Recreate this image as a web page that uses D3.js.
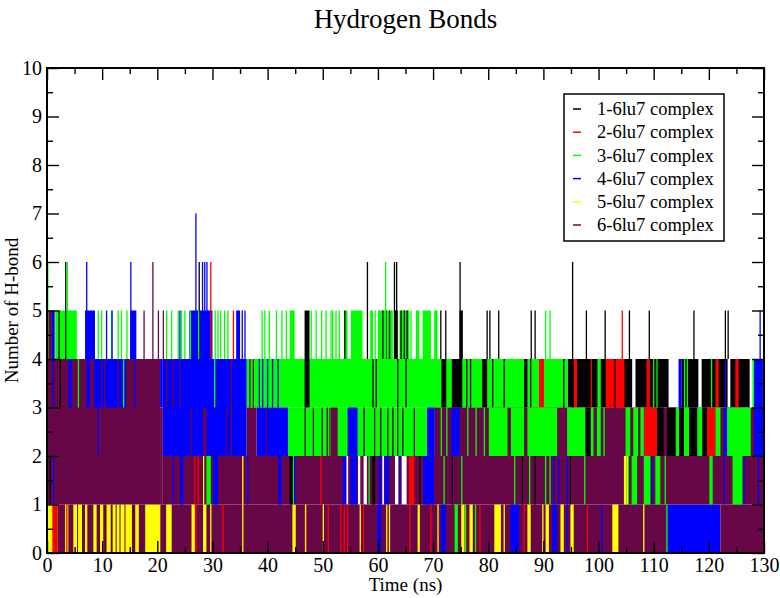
<!DOCTYPE html>
<html>
<head>
<meta charset="utf-8">
<title>Hydrogen Bonds</title>
<script src="https://cdn.jsdelivr.net/npm/d3@7"></script>
<style>
  body { margin: 0; background: #fff; }
  text { font-family: "Liberation Serif", "DejaVu Serif", serif; fill: #000; }
</style>
</head>
<body>
<svg id="chart" width="780" height="598"></svg>
<script>

// series names and colours (legend order = draw order)
var seriesNames = ["1-6lu7 complex", "2-6lu7 complex", "3-6lu7 complex", "4-6lu7 complex", "5-6lu7 complex", "6-6lu7 complex"];
var seriesColors = ["#000000", "#ff0000", "#00ff00", "#0000ff", "#ffff00", "#670748"];

var xTicks = [0, 10, 20, 30, 40, 50, 60, 70, 80, 90, 100, 110, 120, 130];
var xMinorTicks = [5, 15, 25, 35, 45, 55, 65, 75, 85, 95, 105, 115, 125];
var yTicks = [0, 1, 2, 3, 4, 5, 6, 7, 8, 9, 10];
var yMinorTicks = [0.5, 1.5, 2.5, 3.5, 4.5, 5.5, 6.5, 7.5, 8.5, 9.5];

// each series: bands = long stretches where the count flips between lo and hi  [t0, t1, lo, hi]
// bursts = short stretches of the same kind, spikes = single frames [t, lo, hi]
var s1Bands = [[94.4,106.1,3,4],[106.7,112.7,3,4],[115.1,118.1,3,4],[118.7,123.4,3,4],[123.9,127.4,3,4]];
var s1Bursts = [[46.7,47.6,3,5],[62.9,63.6,4,5],[74.8,75.4,4,5],[71.5,72.4,3,4],[73.4,75.3,3,4],[78.9,79.8,3,4],[86.5,87.1,3,4],
  [97.6,98.6,2,3],[110.6,111.8,2,3],[112.4,114.0,2,3],[114.6,115.5,2,3],[116.4,117.9,2,3],[118.8,119.7,2,3],[44.0,44.6,1,2],[59.0,59.5,1,2]];
var s1Spikes = [[3.4,4,6],[27.6,4,6],[58.1,4,6],[63.0,4,6],[63.4,4,6],[74.9,3,6],[95.3,3,6],[2.2,4,5],[54.0,4,5],[60.9,4,5],[61.5,4,5],
  [62.1,4,5],[64.2,4,5],[64.8,4,5],[65.3,4,5],[71.4,4,5],[72.3,4,5],[79.8,4,5],[80.3,4,5],[81.9,4,5],[87.8,4,5],[88.5,4,5],[97.8,4,5],
  [101.2,4,5],[105.6,4,5],[109.2,4,5],[117.3,4,5],[123.0,4,5],[123.5,4,5],[2.4,3,4],[59.1,3,4],[59.7,3,4],[63.6,3,4],[65.1,3,4],
  [76.1,3,4],[76.8,3,4],[80.8,3,4],[82.9,3,4],[87.7,3,4],[93.7,3,4],[103.0,3,4],[57.5,2,3],[60.5,2,3],[62.7,2,3],[64.5,2,3],
  [0.6,1,2],[67.6,1,2],[73.5,1,2],[86.2,1,2],[88.5,1,2],[94.9,1,2]];

var s2Bands = [];
var s2Bursts = [[89.2,90.1,3,4],[95.5,96.1,3,4],[101.3,104.7,3,4],[108.7,109.3,3,4],[121.2,121.8,3,4],[124.8,125.4,3,4],
  [108.2,110.6,2,3],[119.7,121.2,2,3],[65.6,66.6,1,2],[0.97,1.93,0,1]];
var s2Spikes = [[29.7,4,6],[33.8,4,5],[104.3,4,5],[98.7,3,4],[26.8,1,2],[27.4,1,2],[49.7,1,2],[3.6,0,1],[27.0,0,1],[31.9,0,1],
  [46.8,0,1],[51.0,0,1],[53.3,0,1],[53.9,0,1],[54.5,0,1],[57.4,0,1],[65.8,0,1],[69.6,0,1],[78.5,0,1],[86.5,0,1],[98.0,0,1]];

var s3Bands = [[36.2,94.4,3,4],[43.7,70.3,2,3]];
var s3Bursts = [[1.5,5.4,4,5],[44.0,44.9,4,5],[53.9,54.5,4,5],[55.1,57.2,4,5],[58.6,59.1,4,5],[60.0,62.7,4,5],[63.9,65.7,4,5],
  [66.9,67.5,4,5],[68.1,69.6,4,5],[70.2,70.8,4,5],[99.8,100.4,3,4],[127.9,128.3,3,4],[80.1,83.5,2,3],[84.1,86.5,2,3],
  [87.1,92.5,2,3],[94.3,97.6,2,3],[98.6,99.2,2,3],[99.7,100.4,2,3],[104.9,105.8,2,3],[106.3,107.2,2,3],[107.6,108.2,2,3],
  [114.0,114.6,2,3],[115.5,116.4,2,3],[117.9,118.8,2,3],[121.2,122.1,2,3],[123.3,127.6,2,3],[28.9,29.7,1,2],[105.0,105.5,1,2],
  [106.0,107.0,1,2],[108.2,109.4,1,2],[110.3,111.2,1,2],[120.1,120.7,1,2],[124.3,126.1,1,2],[73.9,74.5,0,1]];
var s3Spikes = [[0.15,4,6],[3.7,4,6],[61.4,4,6],[9.3,4,5],[9.9,4,5],[11.7,4,5],[12.9,4,5],[13.5,4,5],[14.5,4,5],[21.7,4,5],
  [22.6,4,5],[23.8,4,5],[24.4,4,5],[25.0,4,5],[26.0,4,5],[27.5,4,5],[30.5,4,5],[31.0,4,5],[31.5,4,5],[32.2,4,5],[32.8,4,5],
  [39.0,4,5],[39.5,4,5],[40.3,4,5],[41.6,4,5],[42.6,4,5],[43.4,4,5],[47.9,4,5],[48.8,4,5],[49.8,4,5],[50.6,4,5],[51.5,4,5],
  [51.8,4,5],[52.4,4,5],[53.0,4,5],[59.5,4,5],[66.0,4,5],[90.4,4,5],[91.2,4,5],[5.7,3,4],[13.9,3,4],[30.4,3,4],[110.0,3,4],
  [110.6,3,4],[115.6,3,4],[116.1,3,4],[120.5,3,4],[71.5,2,3],[72.5,2,3],[76.3,2,3],[77.8,2,3],[79.3,2,3],[101.0,2,3],
  [44.7,1,2],[58.4,1,2],[72.0,1,2],[75.2,1,2],[84.8,1,2],[87.5,1,2],[90.4,1,2],[91.2,1,2],[97.5,1,2],[112.1,1,2],
  [75.9,0,1],[77.7,0,1],[112.4,0,1]];

var s4Bands = [[20.5,21.0,3,4],[21.0,36.2,2,4],[38.0,43.7,2,3],[112.4,122.1,0,1]];
var s4Bursts = [[0.9,1.4,4,5],[6.9,8.7,4,5],[15.1,16.2,4,5],[25.8,30.0,4,5],[34.3,35.0,4,5],[3.9,4.5,3,4],[7.2,7.8,3,4],
  [8.5,14.3,3,4],[114.5,115.1,3,4],[128.2,129.8,2,4],[54.5,56.3,2,3],[68.9,70.3,2,3],[73.3,74.8,2,3],[122.7,123.3,2,3],
  [24.1,24.7,1,2],[30.1,31.0,1,2],[41.9,42.5,1,2],[53.6,54.2,1,2],[55.0,56.2,1,2],[60.1,60.6,1,2],[61.2,62.0,1,2],
  [68.2,70.2,1,2],[59.9,60.6,0,1],[71.4,72.3,0,1],[84.0,85.6,0,1],[91.6,92.5,0,1]];
var s4Spikes = [[7.2,4,6],[15.2,4,6],[27.0,4,7],[28.2,4,6],[28.6,4,6],[29.0,4,6],[129.3,4,5],[10.8,4,5],[11.8,4,5],[24.1,4,5],
  [35.4,4,5],[35.9,4,5],[1.15,3,4],[15.9,3,4],[38.5,3,4],[39.1,3,4],[40.0,3,4],[40.9,3,4],[41.9,3,4],[123.0,3,4],[9.3,2,3],
  [1.2,1,2],[22.9,1,2],[36.4,1,2],[44.9,1,2],[64.0,1,2],[91.9,1,2],[92.8,1,2],[94.3,1,2],[109.7,1,2],[122.8,1,2],[126.4,1,2],
  [129.0,1,2],[94.3,0,1],[100.6,0,1]];

var s5Bands = [[0,22.6,0,1]];
var s5Bursts = [[26.2,26.8,0,1],[28.3,28.9,0,1],[44.5,45.1,0,1],[67.2,67.6,0,1],[75.1,75.7,0,1],[76.6,77.2,0,1],[81.1,82.3,0,1],
  [87.1,87.7,0,1],[90.4,91.0,0,1],[93.1,93.7,0,1],[94.9,95.5,0,1],[102.5,103.6,0,1],[104.6,105.0,1,2]];
var s5Spikes = [[29.7,0,1],[35.5,0,1],[46.9,0,1],[50.1,0,1],[56.8,0,1],[61.6,0,1],[62.1,0,1],[70.9,0,1],[82.9,0,1],[89.9,0,1],
  [108.2,0,1],[28.4,1,2],[35.5,1,2],[105.2,1,2]];

var s6Bands = [[0,0.9,3,5],[0,20.5,1,4],[20.5,21.0,1,3],[21.0,54.3,1,2],[54.6,56.4,1,2],[56.8,57.4,1,2],[58.0,60.8,1,2],
  [61.1,63.1,1,2],[63.7,64.3,1,2],[65.2,130,1,2],[36.2,38.0,2,3],[70.3,130,2,3],[22.6,112.4,0,1],[122.1,130,0,1]];
var s6Bursts = [[1.93,3.26,0,1],[3.87,4.77,0,1],[5.45,5.6,0,1],[6.35,6.89,0,1],[7.31,8.4,0,1],[9.0,9.61,0,1],[10.2,10.8,0,1],
  [11.55,11.9,0,1],[12.45,12.55,0,1],[13.15,13.25,0,1],[14.05,14.15,0,1],[15.4,16.0,0,1],[16.65,17.8,0,1],[20.55,21.6,0,1],
  [28.3,28.9,2,3],[51.5,52.7,2,3]];
var s6Spikes = [[19.2,4,6],[17.6,4,5],[20.2,4,5],[21.1,4,5],[21.7,3,4],[22.9,3,4],[24.1,3,4],[33.4,3,4],[9.9,3,4],[10.5,3,4],
  [12.9,3,4],[36.8,3,4],[37.4,3,4],[26.2,2,3],[32.5,2,3],[33.4,2,3],[39.8,2,3],[46.8,2,3],[48.3,2,3],[49.9,2,3],[50.8,2,3],
  [51.3,2,3],[59.4,2,3],[61.8,2,3],[63.6,2,3],[66.6,2,3],[99.2,2,3],[105.9,2,3],[107.4,2,3]];

var series = [
  {name: seriesNames[0], color: seriesColors[0], bands: s1Bands, bursts: s1Bursts, spikes: s1Spikes},
  {name: seriesNames[1], color: seriesColors[1], bands: s2Bands, bursts: s2Bursts, spikes: s2Spikes},
  {name: seriesNames[2], color: seriesColors[2], bands: s3Bands, bursts: s3Bursts, spikes: s3Spikes},
  {name: seriesNames[3], color: seriesColors[3], bands: s4Bands, bursts: s4Bursts, spikes: s4Spikes},
  {name: seriesNames[4], color: seriesColors[4], bands: s5Bands, bursts: s5Bursts, spikes: s5Spikes},
  {name: seriesNames[5], color: seriesColors[5], bands: s6Bands, bursts: s6Bursts, spikes: s6Spikes}
];

var serif = '"Liberation Serif", "DejaVu Serif", serif';

var svg = d3.select("#chart"),
    margin = {left: 47, right: 16, top: 68, bottom: 45},
    w = +svg.attr("width") - margin.left - margin.right,
    h = +svg.attr("height") - margin.top - margin.bottom;

var xScale = d3.scaleLinear().domain([0, 130]).range([0, w]);
var yScale = d3.scaleLinear().domain([0, 10]).range([h, 0]);

svg.append("defs").append("clipPath").attr("id", "clip")
  .append("rect").attr("width", w).attr("height", h);

var g = svg.append("g")
  .attr("transform", "translate(" + margin.left + "," + margin.top + ")");

var plot = g.append("g").attr("clip-path", "url(#clip)");

// bands first, then the short bursts, then single-frame spikes
["bands", "bursts"].forEach(function(key) {
  series.forEach(function(s) {
    plot.append("g")
      .selectAll("rect")
      .data(s[key])
      .enter().append("rect")
      .attr("x", function(d) { return xScale(d[0]); })
      .attr("y", function(d) { return yScale(d[3]); })
      .attr("width", function(d) { return Math.max(1, xScale(d[1]) - xScale(d[0])); })
      .attr("height", function(d) { return yScale(d[2]) - yScale(d[3]); })
      .attr("fill", s.color);
  });
});

series.forEach(function(s) {
  plot.append("g")
    .selectAll("line")
    .data(s.spikes)
    .enter().append("line")
    .attr("x1", function(d) { return xScale(d[0]); })
    .attr("x2", function(d) { return xScale(d[0]); })
    .attr("y1", function(d) { return yScale(d[1]); })
    .attr("y2", function(d) { return yScale(d[2]); })
    .attr("stroke", s.color)
    .attr("stroke-width", 1.3);
});

// axes, ticks pointing inward on all four sides
function styleAxis(sel) {
  sel.attr("font-family", null).attr("font-size", null);
  sel.select(".domain").remove();
  sel.selectAll(".tick line").attr("stroke", "#000").attr("stroke-width", 1.4);
  sel.selectAll(".tick text").style("font-family", serif).style("font-size", "20px");
}

g.append("g").attr("transform", "translate(0," + h + ")")
  .call(d3.axisBottom(xScale).tickValues(xTicks).tickSizeInner(-12).tickSizeOuter(0).tickPadding(5).tickFormat(d3.format("d")))
  .call(styleAxis);
g.append("g").attr("transform", "translate(0," + h + ")")
  .call(d3.axisBottom(xScale).tickValues(xMinorTicks).tickSizeInner(-6).tickSizeOuter(0).tickFormat(""))
  .call(styleAxis);
g.append("g")
  .call(d3.axisTop(xScale).tickValues(xTicks).tickSizeInner(-12).tickSizeOuter(0).tickFormat(""))
  .call(styleAxis);
g.append("g")
  .call(d3.axisTop(xScale).tickValues(xMinorTicks).tickSizeInner(-6).tickSizeOuter(0).tickFormat(""))
  .call(styleAxis);

g.append("g")
  .call(d3.axisLeft(yScale).tickValues(yTicks).tickSizeInner(-12).tickSizeOuter(0).tickPadding(5).tickFormat(d3.format("d")))
  .call(styleAxis);
g.append("g")
  .call(d3.axisLeft(yScale).tickValues(yMinorTicks).tickSizeInner(-6).tickSizeOuter(0).tickFormat(""))
  .call(styleAxis);
g.append("g").attr("transform", "translate(" + w + ",0)")
  .call(d3.axisRight(yScale).tickValues(yTicks).tickSizeInner(-12).tickSizeOuter(0).tickFormat(""))
  .call(styleAxis);
g.append("g").attr("transform", "translate(" + w + ",0)")
  .call(d3.axisRight(yScale).tickValues(yMinorTicks).tickSizeInner(-6).tickSizeOuter(0).tickFormat(""))
  .call(styleAxis);

g.append("rect")
  .attr("width", w)
  .attr("height", h)
  .attr("fill", "none")
  .attr("stroke", "#000")
  .attr("stroke-width", 2);

// titles
svg.append("text")
  .attr("x", margin.left + w / 2)
  .attr("y", 28)
  .attr("text-anchor", "middle")
  .style("font-family", serif)
  .style("font-size", "27px")
  .text("Hydrogen Bonds");

svg.append("text")
  .attr("x", margin.left + w / 2)
  .attr("y", 591)
  .attr("text-anchor", "middle")
  .style("font-family", serif)
  .style("font-size", "19px")
  .text("Time (ns)");

svg.append("text")
  .attr("transform", "translate(18," + (margin.top + h / 2) + ") rotate(-90)")
  .attr("text-anchor", "middle")
  .style("font-family", serif)
  .style("font-size", "19px")
  .text("Number of H-bond");

// legend
var legend = svg.append("g").attr("transform", "translate(564,94)");
legend.append("rect")
  .attr("width", 160)
  .attr("height", 147)
  .attr("fill", "#fff")
  .attr("stroke", "#000")
  .attr("stroke-width", 1.5);

var entry = legend.selectAll(".entry")
  .data(series)
  .enter().append("g")
  .attr("class", "entry")
  .attr("transform", function(d, i) { return "translate(0," + (15 + i * 23.2) + ")"; });

entry.append("line")
  .attr("x1", 9).attr("x2", 17)
  .attr("stroke", function(d) { return d.color; })
  .attr("stroke-width", 1.5);

entry.append("text")
  .attr("x", 33)
  .attr("dy", "0.33em")
  .style("font-family", serif)
  .style("font-size", "18.5px")
  .text(function(d) { return d.name; });

</script>
</body>
</html>
